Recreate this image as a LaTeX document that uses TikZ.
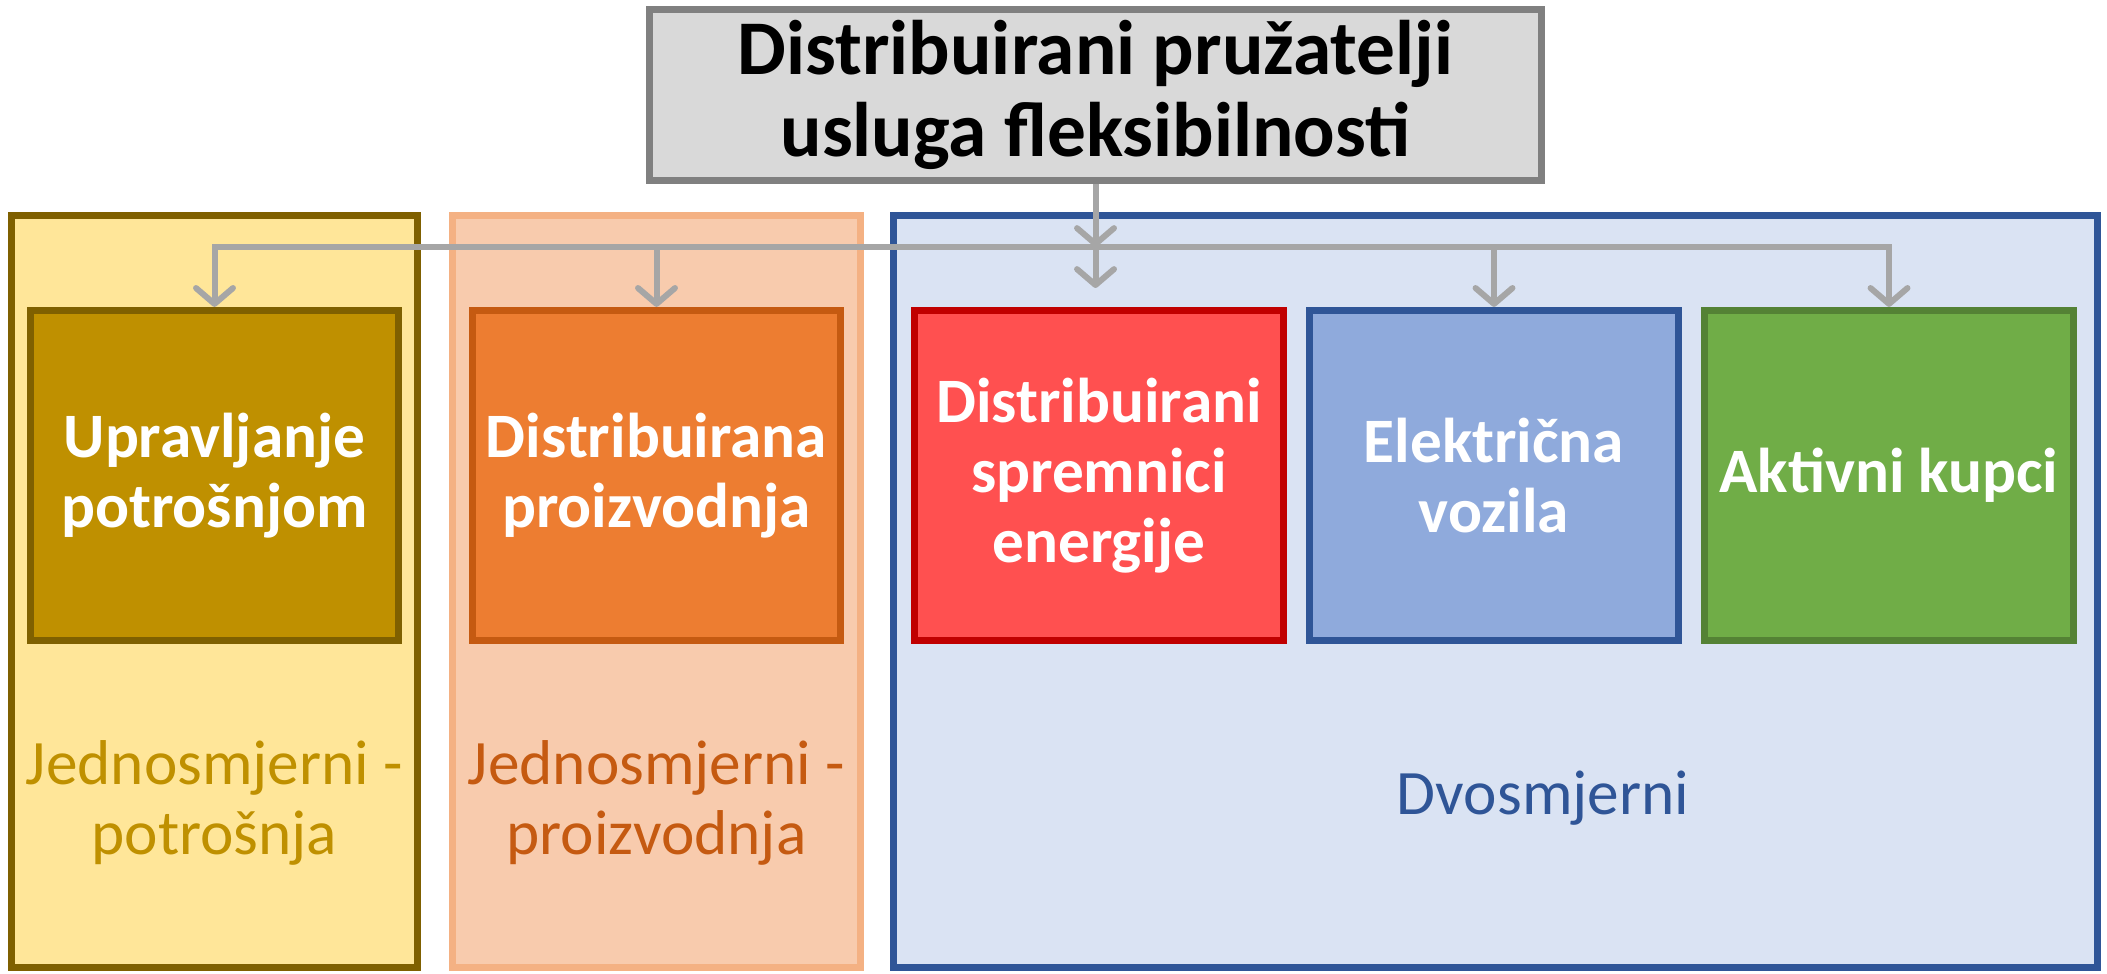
\documentclass[tikz,border=0pt]{standalone}
\usepackage{fontspec}
\setmainfont{Carlito}
\usetikzlibrary{arrows.meta}
\definecolor{titlefill}{HTML}{D9D9D9}
\definecolor{titleline}{HTML}{808080}
\definecolor{connline}{HTML}{A6A6A6}
\definecolor{goldfill}{HTML}{FFE699}
\definecolor{goldline}{HTML}{7F6000}
\definecolor{goldbox}{HTML}{BF9000}
\definecolor{orangefill}{HTML}{F8CBAD}
\definecolor{orangeline}{HTML}{F4B183}
\definecolor{orangebox}{HTML}{ED7D31}
\definecolor{orangedark}{HTML}{C55A11}
\definecolor{bluefill}{HTML}{DAE3F3}
\definecolor{blueline}{HTML}{2F5597}
\definecolor{bluebox}{HTML}{8FAADC}
\definecolor{redbox}{HTML}{FF5050}
\definecolor{redline}{HTML}{C00000}
\definecolor{greenbox}{HTML}{70AD47}
\definecolor{greenline}{HTML}{548235}

\begin{document}
\begin{tikzpicture}[x=0.01cm, y=-0.01cm,
    panel/.style={draw, line width=0.07cm, minimum height=7.52cm, inner sep=0pt},
    techbox/.style={draw, line width=0.07cm, minimum width=3.68cm, minimum height=3.30cm,
      inner sep=0pt, align=center, text=white, font=\fontsize{18}{20}\selectfont\bfseries},
    conn/.style={draw=connline, line width=0.06cm, -{Straight Barb[length=4.5pt, width=10.5pt, round]}},
    note/.style={align=center, font=\fontsize{18}{20}\selectfont}]
    \useasboundingbox (0,0) rectangle (2107,974);
    % okviri po smjeru
    \node [panel, fill=goldfill, draw=goldline, minimum width=4.06cm] (potrosnja) at (214.5,591.5) {};
    \node [panel, fill=orangefill, draw=orangeline, minimum width=4.08cm] (proizvodnja) at (656.5,591.5) {};
    \node [panel, fill=bluefill, draw=blueline, minimum width=12.04cm] (dvosmjerni) at (1495.5,591.5) {};
    % naslov
    \node [draw=titleline, fill=titlefill, line width=0.07cm, minimum width=8.92cm, minimum height=1.71cm,
      inner sep=0pt, align=center, font=\fontsize{22}{23.3}\selectfont\bfseries] (title) at (1095.5,95)
      {Distribuirani pružatelji\\usluga fleksibilnosti};
    % pruzatelji
    \node [techbox, fill=goldbox, draw=goldline] (upravljanje) at (214.5,475.5) {Upravljanje\\potrošnjom};
    \node [techbox, fill=orangebox, draw=orangedark] (proizv) at (656.5,475.5) {Distribuirana\\proizvodnja};
    \node [techbox, fill=redbox, draw=redline] (spremnici) at (1099,475.5) {Distribuirani\\spremnici\\energije};
    \node [techbox, fill=bluebox, draw=blueline] (vozila) at (1494,475.5) {Električna\\vozila};
    \node [techbox, fill=greenbox, draw=greenline] (kupci) at (1889,475.5) {Aktivni kupci};
    % oznake
    \node [note, text=goldbox] (jedan1) at (214.5,803) {Jednosmjerni -\\potrošnja};
    \node [note, text=orangedark] (jedan2) at (656.5,803) {Jednosmjerni -\\proizvodnja};
    \node [note, text=blueline, anchor=base] (dvo) at (1543,815) {Dvosmjerni};
    % veze
    \coordinate (jn) at (1095.5,247);
    \coordinate (sp) at (1095.5,288);
    \draw [conn] (title.south) -- (jn);
    \draw [conn] (jn) -- (sp);
    \draw [conn] (jn) -| (upravljanje.north);
    \draw [conn] (jn) -| (proizv.north);
    \draw [conn] (jn) -| (vozila.north);
    \draw [conn] (jn) -| (kupci.north);
\end{tikzpicture}
\end{document}
